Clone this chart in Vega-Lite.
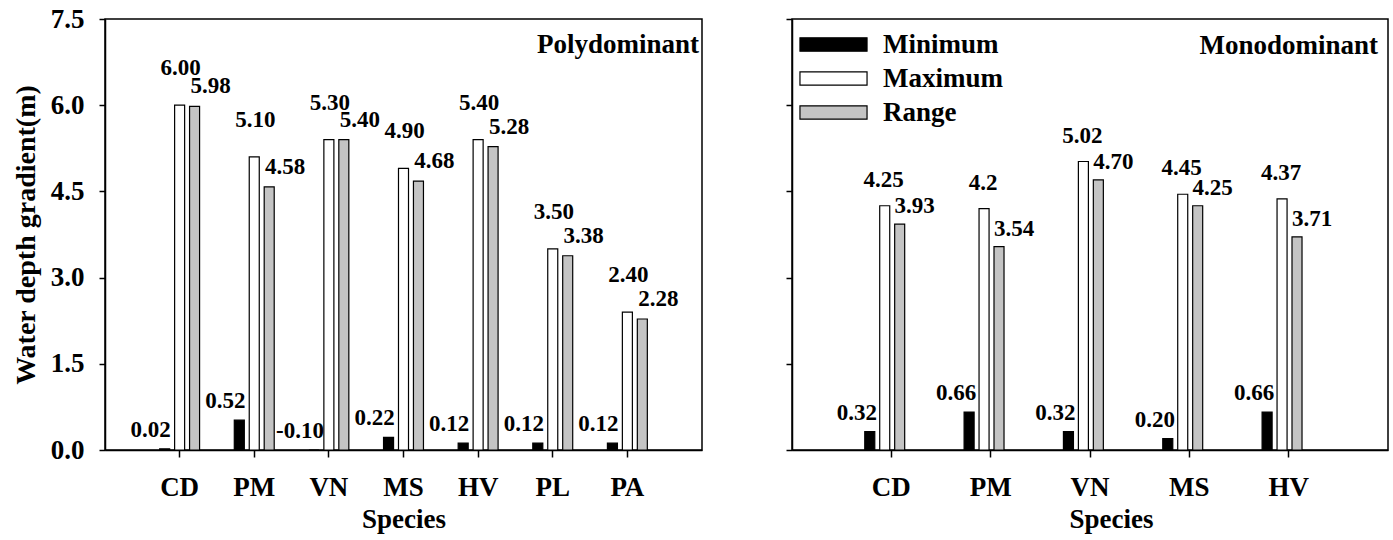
{
  "$schema": "https://vega.github.io/schema/vega-lite/v6.json",
  "background": "white",
  "padding": {"left": 11, "top": 4, "right": 5, "bottom": 2},
  "config": {
    "font": "Liberation Serif",
    "view": {"stroke": "black", "strokeWidth": 1.5},
    "axis": {
      "labelFont": "Liberation Serif", "labelFontWeight": "bold", "labelFontSize": 27, "labelColor": "black",
      "titleFont": "Liberation Serif", "titleFontWeight": "bold", "titleFontSize": 27, "titleColor": "black",
      "domainColor": "black", "domainWidth": 1.5, "tickColor": "black", "tickWidth": 1.5, "grid": false
    },
    "text": {"font": "Liberation Serif", "fontWeight": "bold", "fontSize": 23, "baseline": "middle", "color": "black"},
    "title": {"font": "Liberation Serif", "fontWeight": "bold", "fontSize": 27, "color": "black"}
  },
  "datasets": {
    "poly": [
      {"species": "CD", "stat": "Minimum", "value": 0.02, "label": "0.02"},
      {"species": "CD", "stat": "Maximum", "value": 6.00, "label": "6.00"},
      {"species": "CD", "stat": "Range", "value": 5.98, "label": "5.98"},
      {"species": "PM", "stat": "Minimum", "value": 0.52, "label": "0.52"},
      {"species": "PM", "stat": "Maximum", "value": 5.10, "label": "5.10"},
      {"species": "PM", "stat": "Range", "value": 4.58, "label": "4.58"},
      {"species": "VN", "stat": "Minimum", "value": -0.10, "label": "-0.10"},
      {"species": "VN", "stat": "Maximum", "value": 5.40, "label": "5.30"},
      {"species": "VN", "stat": "Range", "value": 5.40, "label": "5.40"},
      {"species": "MS", "stat": "Minimum", "value": 0.22, "label": "0.22"},
      {"species": "MS", "stat": "Maximum", "value": 4.90, "label": "4.90"},
      {"species": "MS", "stat": "Range", "value": 4.68, "label": "4.68"},
      {"species": "HV", "stat": "Minimum", "value": 0.12, "label": "0.12"},
      {"species": "HV", "stat": "Maximum", "value": 5.40, "label": "5.40"},
      {"species": "HV", "stat": "Range", "value": 5.28, "label": "5.28"},
      {"species": "PL", "stat": "Minimum", "value": 0.12, "label": "0.12"},
      {"species": "PL", "stat": "Maximum", "value": 3.50, "label": "3.50"},
      {"species": "PL", "stat": "Range", "value": 3.38, "label": "3.38"},
      {"species": "PA", "stat": "Minimum", "value": 0.12, "label": "0.12"},
      {"species": "PA", "stat": "Maximum", "value": 2.40, "label": "2.40"},
      {"species": "PA", "stat": "Range", "value": 2.28, "label": "2.28"}
    ],
    "mono": [
      {"species": "CD", "stat": "Minimum", "value": 0.32, "label": "0.32"},
      {"species": "CD", "stat": "Maximum", "value": 4.25, "label": "4.25"},
      {"species": "CD", "stat": "Range", "value": 3.93, "label": "3.93"},
      {"species": "PM", "stat": "Minimum", "value": 0.66, "label": "0.66"},
      {"species": "PM", "stat": "Maximum", "value": 4.20, "label": "4.2"},
      {"species": "PM", "stat": "Range", "value": 3.54, "label": "3.54"},
      {"species": "VN", "stat": "Minimum", "value": 0.32, "label": "0.32"},
      {"species": "VN", "stat": "Maximum", "value": 5.02, "label": "5.02"},
      {"species": "VN", "stat": "Range", "value": 4.70, "label": "4.70"},
      {"species": "MS", "stat": "Minimum", "value": 0.20, "label": "0.20"},
      {"species": "MS", "stat": "Maximum", "value": 4.45, "label": "4.45"},
      {"species": "MS", "stat": "Range", "value": 4.25, "label": "4.25"},
      {"species": "HV", "stat": "Minimum", "value": 0.66, "label": "0.66"},
      {"species": "HV", "stat": "Maximum", "value": 4.37, "label": "4.37"},
      {"species": "HV", "stat": "Range", "value": 3.71, "label": "3.71"}
    ]
  },
  "resolve": {"scale": {"fill": "independent", "x": "independent", "y": "independent"}, "legend": {"fill": "independent"}},
  "spacing": 81,
  "hconcat": [
    {
      "width": 597,
      "height": 431,
      "data": {"name": "poly"},
      "title": {"text": "Polydominant", "anchor": "end", "orient": "top", "offset": -54, "dx": -3},
      "encoding": {
        "x": {"field": "species", "type": "nominal", "sort": ["CD", "PM", "VN", "MS", "HV", "PL", "PA"],
              "scale": {"paddingInner": 0.465, "paddingOuter": 0.7325},
              "axis": {"title": "Species", "labelAngle": 0, "tickSize": 7, "labelPadding": 17, "titlePadding": 6}},
        "xOffset": {"field": "stat", "type": "nominal", "sort": ["Minimum", "Maximum", "Range"],
                    "scale": {"paddingInner": 0.33, "paddingOuter": 0}},
        "y": {"field": "value", "type": "quantitative",
              "scale": {"domain": [0, 7.5], "nice": false, "clamp": true, "zero": true},
              "axis": {"title": "Water depth gradient(m)", "values": [0, 1.5, 3, 4.5, 6, 7.5], "format": ".1f",
                       "tickSize": 6, "labelPadding": 15, "titlePadding": 10, "titleFontSize": 28}}
      },
      "layer": [
        {
          "mark": {"type": "bar", "stroke": "black", "strokeWidth": 1.2, "clip": true},
          "encoding": {
            "fill": {"field": "stat", "type": "nominal",
                     "scale": {"domain": ["Minimum", "Maximum", "Range"], "range": ["#000000", "#ffffff", "#c4c4c4"]},
                     "legend": null}
          }
        },
        {
          "transform": [{"filter": "datum.stat == 'Minimum'"}],
          "mark": {"type": "text", "dx": -14, "dy": -19},
          "encoding": {"text": {"field": "label"}}
        },
        {
          "transform": [{"filter": "datum.stat == 'Maximum'"}],
          "mark": {"type": "text", "dx": 1, "dy": -37},
          "encoding": {"text": {"field": "label"}}
        },
        {
          "transform": [{"filter": "datum.stat == 'Range'"}],
          "mark": {"type": "text", "dx": 16, "dy": -20},
          "encoding": {"text": {"field": "label"}}
        }
      ]
    },
    {
      "width": 596,
      "height": 431,
      "data": {"name": "mono"},
      "title": {"text": "Monodominant", "anchor": "end", "orient": "top", "offset": -42, "dx": -10},
      "encoding": {
        "x": {"field": "species", "type": "nominal", "sort": ["CD", "PM", "VN", "MS", "HV"],
              "scale": {"paddingInner": 0.465, "paddingOuter": 0.7325},
              "axis": {"title": "Species", "labelAngle": 0, "tickSize": 7, "labelPadding": 17, "titlePadding": 6, "titleX": 319}},
        "xOffset": {"field": "stat", "type": "nominal", "sort": ["Minimum", "Maximum", "Range"],
                    "scale": {"paddingInner": 0.33, "paddingOuter": 0}},
        "y": {"field": "value", "type": "quantitative",
              "scale": {"domain": [0, 7.5], "nice": false, "clamp": true, "zero": true},
              "axis": {"title": null, "values": [0, 1.5, 3, 4.5, 6, 7.5], "labels": false, "tickSize": 6}}
      },
      "layer": [
        {
          "mark": {"type": "bar", "stroke": "black", "strokeWidth": 1.2, "clip": true},
          "encoding": {
            "fill": {"field": "stat", "type": "nominal",
                     "scale": {"domain": ["Minimum", "Maximum", "Range"], "range": ["#000000", "#ffffff", "#c4c4c4"]},
                     "legend": {"title": null, "orient": "none", "legendX": 28, "legendY": 12, "padding": 0,
                                "symbolType": "M-5,-1H5V1H-5Z", "symbolSize": 180,
                                "symbolStrokeColor": "black", "symbolStrokeWidth": 1.2, "symbolOpacity": 1,
                                "labelFont": "Liberation Serif", "labelFontWeight": "bold", "labelFontSize": 27,
                                "labelColor": "black", "labelOffset": 36, "rowPadding": 6}}
          }
        },
        {
          "transform": [{"filter": "datum.stat == 'Minimum'"}],
          "mark": {"type": "text", "dx": -13, "dy": -19},
          "encoding": {"text": {"field": "label"}}
        },
        {
          "transform": [{"filter": "datum.stat == 'Maximum'"}],
          "mark": {"type": "text", "dx": -1, "dy": -26},
          "encoding": {"text": {"field": "label"}}
        },
        {
          "transform": [{"filter": "datum.stat == 'Range'"}],
          "mark": {"type": "text", "dx": 15, "dy": -18},
          "encoding": {"text": {"field": "label"}}
        }
      ]
    }
  ]
}
